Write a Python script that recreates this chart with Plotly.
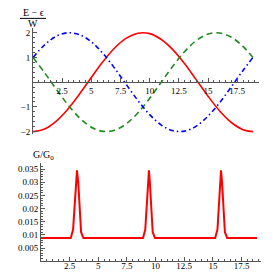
import plotly.graph_objects as go

W = H = 273

# ---- data ----
phi_top = [0, 1, 2, 3, 4, 5, 6, 7, 8, 9, 10, 11, 12, 13, 14, 15, 16, 17, 18, 18.85]
red_top = [-2.000, -1.890, -1.572, -1.081, -0.470, 0.191, 0.832, 1.382, 1.779, 1.980,
           1.963, 1.725, 1.307, 0.744, 0.092, -0.567, -1.163, -1.631, -1.920, -2.000]
green_top = [1.000, 0.378, -0.285, -0.918, -1.448, -1.820, -1.991, -1.943, -1.681, -1.235,
             -0.653, 0.003, 0.657, 1.238, 1.688, 1.945, 1.990, 1.816, 1.445, 1.000]
blue_top = [1.000, 1.510, 1.859, 1.998, 1.918, 1.628, 1.159, 0.562, -0.097, -0.746,
            -1.312, -1.734, -1.964, -1.979, -1.776, -1.377, -0.826, -0.186, 0.476, 1.000]

phi_g = [0, 2.6, 2.8, 2.95, 3.05, 3.14, 3.25, 3.35, 3.5, 3.7,
         8.9, 9.1, 9.25, 9.35, 9.42, 9.5, 9.6, 9.75, 9.95,
         15.2, 15.4, 15.55, 15.65, 15.71, 15.8, 15.9, 16.05, 16.25, 18.85]
g_vals = [0.0088, 0.0088, 0.012, 0.022, 0.031, 0.0345, 0.030, 0.020, 0.011, 0.0088,
          0.0088, 0.012, 0.022, 0.031, 0.0345, 0.030, 0.020, 0.011, 0.0088,
          0.0088, 0.012, 0.022, 0.031, 0.0345, 0.030, 0.020, 0.011, 0.0088, 0.0088]

x_ticks = [2.5, 5, 7.5, 10, 12.5, 15, 17.5]
x_ticklabels = ["2.5", "5", "7.5", "10", "12.5", "15", "17.5"]
y_top_ticks = [-2, -1, 1, 2]
y_top_labels = ["\u22122", "\u22121", "1", "2"]
y_bot_ticks = [0.005, 0.01, 0.015, 0.02, 0.025, 0.03, 0.035]
y_bot_labels = ["0.005", "0.01", "0.015", "0.02", "0.025", "0.03", "0.035"]


def px(x):
    return x / W


def py(y):
    return 1 - y / H


FONT = dict(family="Liberation Serif, Times New Roman, serif", size=9, color="black")
AXC = "#555555"

fig = go.Figure()
fig.add_trace(go.Scatter(x=phi_top, y=red_top, mode="lines", line=dict(color="#ff0000", width=1.6, shape="spline"),
                         xaxis="x", yaxis="y", showlegend=False))
fig.add_trace(go.Scatter(x=phi_top, y=green_top, mode="lines",
                         line=dict(color="#1f8a1f", width=1.6, dash="6px,4px", shape="spline"),
                         xaxis="x", yaxis="y", showlegend=False))
fig.add_trace(go.Scatter(x=phi_top, y=blue_top, mode="lines",
                         line=dict(color="#0000ff", width=1.6, dash="5px,3px,1.5px,3px", shape="spline"),
                         xaxis="x", yaxis="y", showlegend=False))
fig.add_trace(go.Scatter(x=phi_g, y=g_vals, mode="lines", line=dict(color="#ff0000", width=2),
                         xaxis="x2", yaxis="y2", showlegend=False))

common = dict(showgrid=False, zeroline=False, showline=True, linecolor=AXC, linewidth=1,
              ticks="inside", ticklen=4, tickcolor=AXC, tickfont=FONT, fixedrange=True)

fig.update_layout(
    width=W, height=H, margin=dict(l=0, r=0, t=0, b=0),
    paper_bgcolor="white", plot_bgcolor="white",
    xaxis=dict(domain=[px(25), px(251)], range=[0, 19.37], anchor="free", position=py(75),
               tickmode="array", tickvals=x_ticks, ticktext=x_ticklabels,
               minor=dict(ticks="inside", ticklen=2, dtick=0.5, tickcolor=AXC), **common),
    yaxis=dict(domain=[py(127), py(20)], range=[-2.08, 2.2], anchor="x",
               tickmode="array", tickvals=y_top_ticks, ticktext=y_top_labels,
               minor=dict(ticks="inside", ticklen=2, dtick=0.2, tickcolor=AXC), **common),
    xaxis2=dict(domain=[px(33), px(253)], range=[0, 19.2], anchor="y2",
                tickmode="array", tickvals=x_ticks, ticktext=x_ticklabels, ticklabelstandoff=-4,
                minor=dict(ticks="inside", ticklen=2, dtick=0.5, tickcolor=AXC), **common),
    yaxis2=dict(domain=[py(256), py(157)], range=[0, 0.0372], anchor="x2",
                tickmode="array", tickvals=y_bot_ticks, ticktext=y_bot_labels,
                minor=dict(ticks="inside", ticklen=2, dtick=0.001, tickcolor=AXC), **common),
)

ann_font = dict(family="Liberation Serif, Times New Roman, serif", size=10, color="black")
fig.add_annotation(x=px(25), y=py(5), xref="paper", yref="paper", text="E \u2212 \u03f5",
                   showarrow=False, font=ann_font, xanchor="center", yanchor="middle")
fig.add_annotation(x=px(25), y=py(16), xref="paper", yref="paper", text="W",
                   showarrow=False, font=ann_font, xanchor="center", yanchor="middle")
fig.add_shape(type="line", xref="paper", yref="paper", x0=px(12), x1=px(38), y0=py(10.5), y1=py(10.5),
              line=dict(color="black", width=1))
fig.add_annotation(x=px(260), y=py(75), xref="paper", yref="paper", text="\u03a6",
                   showarrow=False, font=ann_font, xanchor="center", yanchor="middle", borderpad=0)
fig.add_annotation(x=px(262), y=py(256), xref="paper", yref="paper", text="\u03a6",
                   showarrow=False, font=ann_font, xanchor="center", yanchor="middle", borderpad=0)
fig.add_annotation(x=px(35), y=py(149), xref="paper", yref="paper", text="G/G<sub>0</sub>",
                   showarrow=False, font=ann_font, xanchor="center", yanchor="middle")

fig.write_html("out.html")
